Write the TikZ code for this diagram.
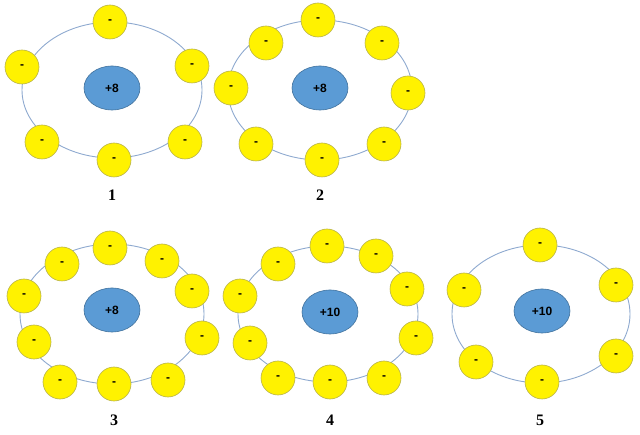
\documentclass[tikz,border=0pt]{standalone}
\usepackage{fontspec}
\setsansfont{Liberation Sans}
\setmainfont{Liberation Serif}
\usetikzlibrary{shapes.geometric}
\begin{document}
\begin{tikzpicture}[x=1pt,y=-1pt,
 orbit/.style={draw=orbitc,line width=0.9pt},
 el/.style={circle,fill=yellow,draw=elc,line width=0.6pt,minimum size=34pt,inner sep=0pt,font=\sffamily\bfseries\fontsize{12}{12}\selectfont},
 nuc/.style={ellipse,fill=nucc,draw=nucb,line width=0.6pt,minimum width=56pt,minimum height=44pt,inner sep=0pt,font=\sffamily\bfseries\fontsize{12}{12}\selectfont},
 lab/.style={font=\bfseries\fontsize{16}{16}\selectfont}]
\definecolor{orbitc}{HTML}{8EA9CF}
\definecolor{elc}{HTML}{B8B24A}
\definecolor{nucc}{HTML}{5B9BD5}
\definecolor{nucb}{HTML}{41719C}
\useasboundingbox (0,0) rectangle (640,435);
% atom 1
\draw[orbit] (112,90) ellipse (90 and 68);
\node[nuc] (n1) at (112,88) {+8};
\foreach \x/\y [count=\i] in {110/22,22/67,192/66,42/142,185/142,114/160}
  \node[el] (a1e\i) at (\x,\y) {-};
\node[lab] (l1) at (112,195) {1};
% atom 2
\draw[orbit] (320,90) ellipse (92 and 70);
\node[nuc] (n2) at (320,88) {+8};
\foreach \x/\y [count=\i] in {318/20,266/43,382/43,231/88,408/93,256/144,384/144,322/160}
  \node[el] (a2e\i) at (\x,\y) {-};
\node[lab] (l2) at (320,195) {2};
% atom 3
\draw[orbit] (112,314) ellipse (92 and 70);
\node[nuc] (n3) at (112,310) {+8};
\foreach \x/\y [count=\i] in {110/248,62/264,162/261,24/296,192/291,34/342,202/338,60/382,168/380,114/384}
  \node[el] (a3e\i) at (\x,\y) {-};
\node[lab] (l3) at (114,420) {3};
% atom 4
\draw[orbit] (328,314) ellipse (90 and 68);
\node[nuc] (n4) at (330,312) {+10};
\foreach \x/\y [count=\i] in {327/246,278/264,376/256,240/296,407/289,250/343,416/338,278/378,384/378,330/382}
  \node[el] (a4e\i) at (\x,\y) {-};
\node[lab] (l4) at (330,420) {4};
% atom 5
\draw[orbit] (541,314) ellipse (89 and 69);
\node[nuc] (n5) at (542,311) {+10};
\foreach \x/\y [count=\i] in {540/245,464/290,616/285,476/362,616/356,542/382}
  \node[el] (a5e\i) at (\x,\y) {-};
\node[lab] (l5) at (540,420) {5};
\end{tikzpicture}
\end{document}
